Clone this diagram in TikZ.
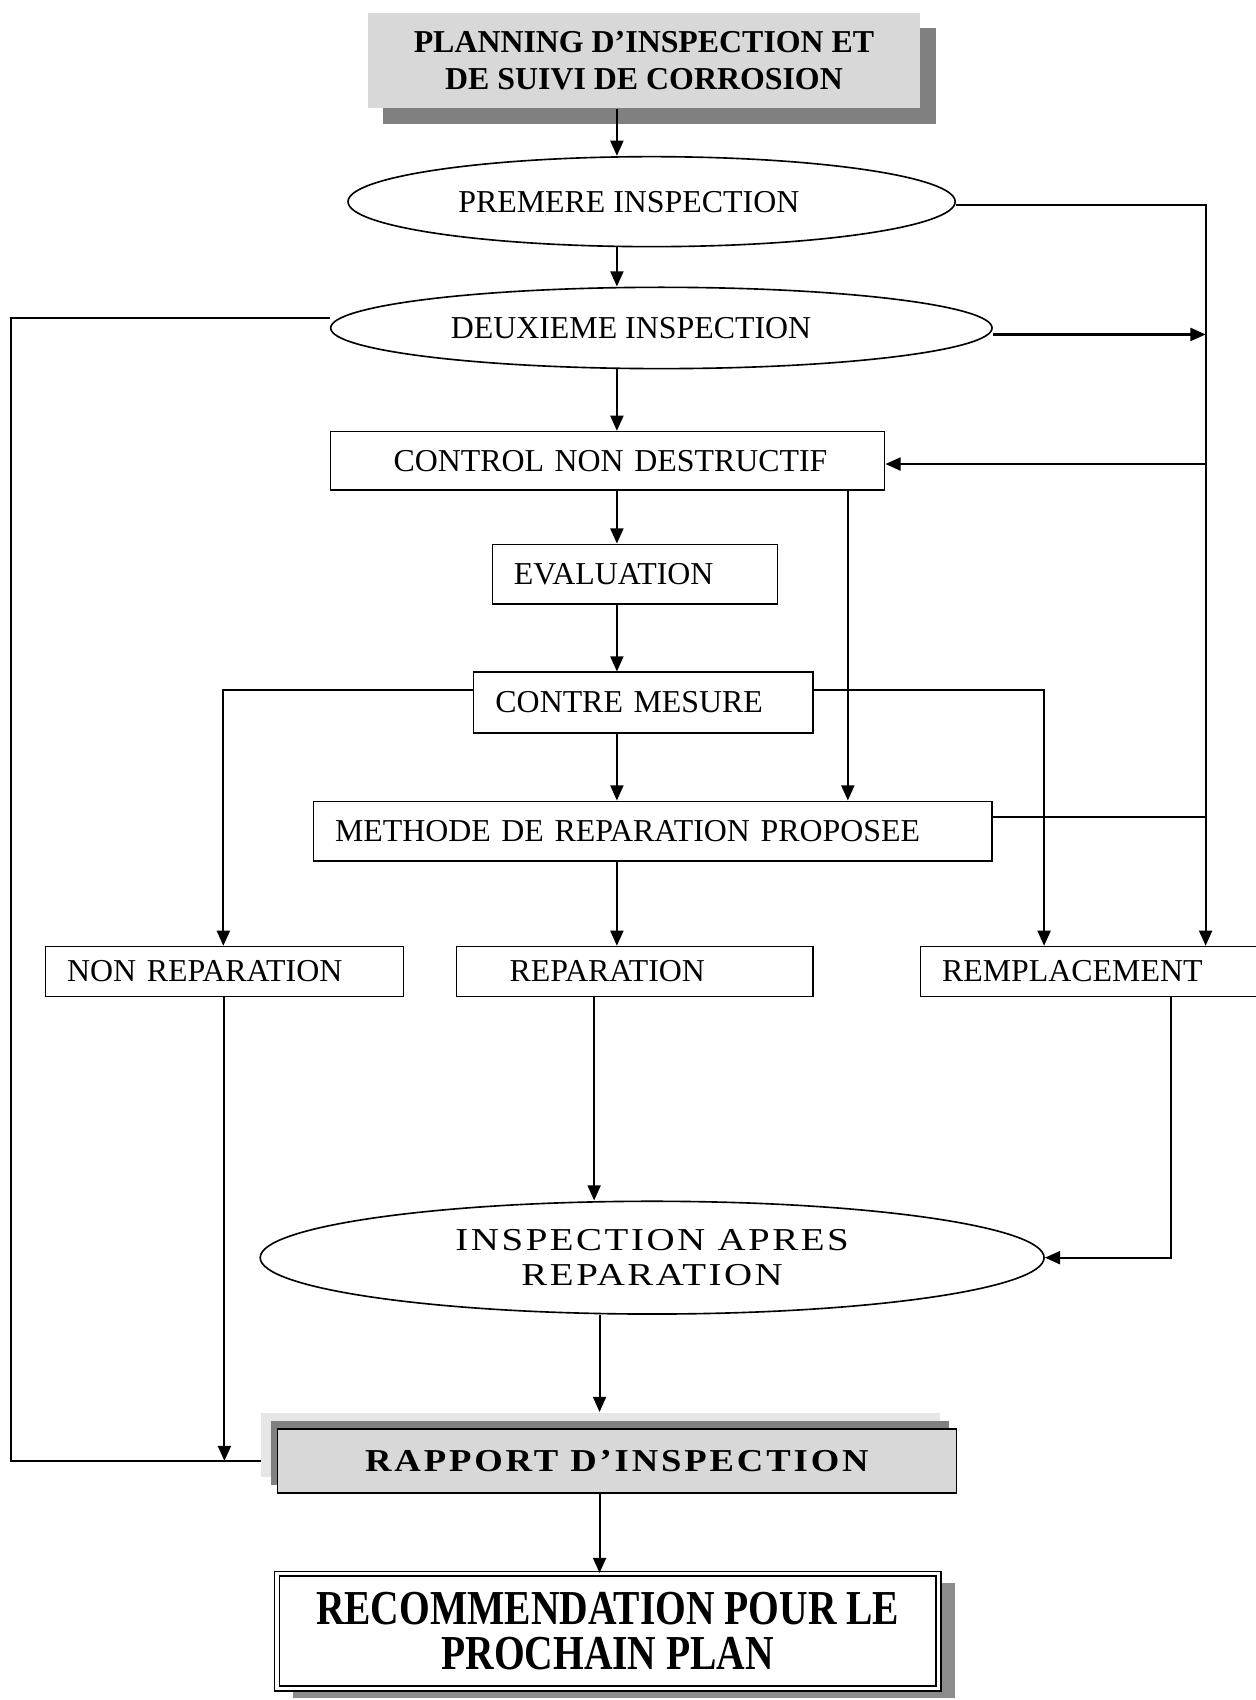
\documentclass[tikz,border=0pt]{standalone}
\usepackage{fontspec}
\setmainfont{Liberation Serif}
\newfontfamily\widefont[FakeStretch=1.22,LetterSpace=8]{Liberation Serif}
\newfontfamily\rapfont[FakeStretch=1.15,LetterSpace=9]{Liberation Serif}
\newfontfamily\condfont[FakeStretch=0.81]{Liberation Serif}
\usetikzlibrary{arrows.meta,shapes.geometric,shadows}

\definecolor{boxgray}{HTML}{D8D8D8}
\definecolor{shadegray}{HTML}{808080}
\definecolor{palegray}{HTML}{E6E6E6}
\definecolor{softgray}{HTML}{8C8C8C}

\begin{document}
\begin{tikzpicture}[x=1pt,y=-1pt,
  base/.style={font=\fontsize{29.4}{34}\selectfont},
  conn/.style={line width=1.9pt},
  arr/.style={conn,-{Triangle[length=14pt,width=12pt]}},
  ovalnode/.style={draw,ellipse,line width=1.5pt,inner sep=0pt,base},
  stepbox/.style={draw,rectangle,line width=1.3pt,inner xsep=20pt,inner ysep=0pt,align=left,base},
]
\useasboundingbox (0,0) rectangle (1158,1568);

% ---- title block with drop shadow
\node[fill=boxgray, minimum width=510pt, minimum height=88pt, inner sep=0pt, align=center,
      general shadow={fill=shadegray, shadow xshift=14pt, shadow yshift=-14pt},
      font=\bfseries\fontsize{29.4}{34}\selectfont]
  (title) at (594,56) {PLANNING D’INSPECTION ET\\DE SUIVI DE CORROSION};

% ---- inspections
\node[ovalnode, minimum width=560pt, minimum height=83pt] (e1) at (601,186)
  {\hspace*{-42pt}PREMERE INSPECTION};
\node[ovalnode, minimum width=610pt, minimum height=75pt] (e2) at (610,302.5)
  {\hspace*{-56pt}DEUXIEME INSPECTION};

% ---- processing steps
\node[stepbox, minimum width=511pt, text width=471pt, minimum height=54pt] (ndt) at (560.5,425)
  {\hspace*{38pt}CONTROL NON DESTRUCTIF};
\node[stepbox, minimum width=263pt, text width=223pt, minimum height=55pt] (eval) at (585.5,529.5)
  {EVALUATION};
\node[stepbox, minimum width=313pt, text width=273pt, minimum height=56pt] (cm) at (593.5,648)
  {CONTRE MESURE};
\node[stepbox, minimum width=626pt, text width=586pt, minimum height=55pt] (meth) at (602,766.5)
  {METHODE DE REPARATION PROPOSEE};

% ---- outcomes
\node[stepbox, minimum width=330pt, text width=290pt, minimum height=46pt] (nonrep) at (207,896)
  {NON REPARATION};
\node[stepbox, minimum width=329pt, text width=289pt, minimum height=46pt] (rep) at (585.5,896)
  {\hspace*{29pt}REPARATION};
\node[stepbox, minimum width=321pt, text width=281pt, minimum height=46pt] (rempl) at (1009.5,896)
  {REMPLACEMENT};

% ---- follow-up
\node[ovalnode, minimum width=723pt, minimum height=104pt, align=center,
      font=\widefont\fontsize{29.4}{33}\selectfont] (e3) at (601.5,1160)
  {INSPECTION APRES\\REPARATION};

\node[draw, line width=1.3pt, fill=boxgray, minimum width=626pt, minimum height=59pt, inner sep=0pt,
      general shadow={fill=palegray, shadow xshift=-15pt, shadow yshift=15pt},
      general shadow={fill=shadegray, shadow xshift=-6.5pt, shadow yshift=7.5pt},
      font=\rapfont\bfseries\fontsize{29.4}{34}\selectfont]
  (rap) at (569,1347.5) {RAPPORT D’INSPECTION};

\node[draw, double, line width=1.4pt, double distance=3pt, fill=white,
      minimum width=610pt, minimum height=106pt, inner sep=0pt, align=center,
      general shadow={fill=softgray, shadow xshift=15pt, shadow yshift=-9pt},
      font=\condfont\bfseries\fontsize{45}{42}\selectfont]
  (rec) at (560.5,1504.5) {RECOMMENDATION POUR LE\\PROCHAIN PLAN};

% ---- routing guides
\coordinate (spine) at (569,0);
\coordinate (rail) at (1112,0);
\coordinate (midx) at (782,0);
\coordinate (lx) at (206,0);
\coordinate (rx) at (963,0);
\coordinate (farleft) at (10,0);
\coordinate (repx) at (548,0);
\coordinate (remx) at (1080,0);
\coordinate (rapx) at (553,0);

% ---- main chain
\draw[arr] (title.south -| spine) -- (e1.north -| spine);
\draw[arr] (e1.south -| spine) -- (e2.north -| spine);
\draw[arr] (e2.south -| spine) -- (ndt.north -| spine);
\draw[arr] (ndt.south -| spine) -- (eval.north -| spine);
\draw[arr] (eval.south -| spine) -- (cm.north -| spine);
\draw[arr] (cm.south -| spine) -- (meth.north -| spine);
\draw[arr] (meth.south -| spine) -- (rep.north -| spine);
\draw[arr] (ndt.south -| midx) -- (meth.north -| midx);

% ---- branches of the counter-measure step
\draw[arr] ([yshift=12pt]cm.west) -| (nonrep.north -| lx);
\draw[arr] ([yshift=12pt]cm.east) -| (rempl.north -| rx);

% ---- right-hand rail
\draw[arr] ([yshift=-3pt]e1.east) -| (rempl.north -| rail);
\draw[arr] ([yshift=-6pt]e2.east) -- ([yshift=-6pt]e2.east -| rail);
\draw[arr] ([yshift=-3pt]ndt.east -| rail) -- ([yshift=-3pt]ndt.east);
\draw[conn] ([yshift=13pt]meth.east) -- ([yshift=13pt]meth.east -| rail);

% ---- left-hand return to the report
\draw[conn] ([yshift=9pt]e2.west) -| (farleft |- rap.west) -- ([xshift=-15pt]rap.west);
\draw[arr] (nonrep.south) -- (nonrep.south |- rap.west);

% ---- repair / replacement follow-up
\draw[arr] (rep.south -| repx) -- (e3.north -| repx);
\draw[arr] (rempl.south -| remx) |- (e3.east);
\draw[arr] (e3.south -| rapx) -- ([yshift=15pt]rap.north -| rapx);
\draw[arr] (rap.south -| rapx) -- (rec.north -| rapx);
\end{tikzpicture}
\end{document}
